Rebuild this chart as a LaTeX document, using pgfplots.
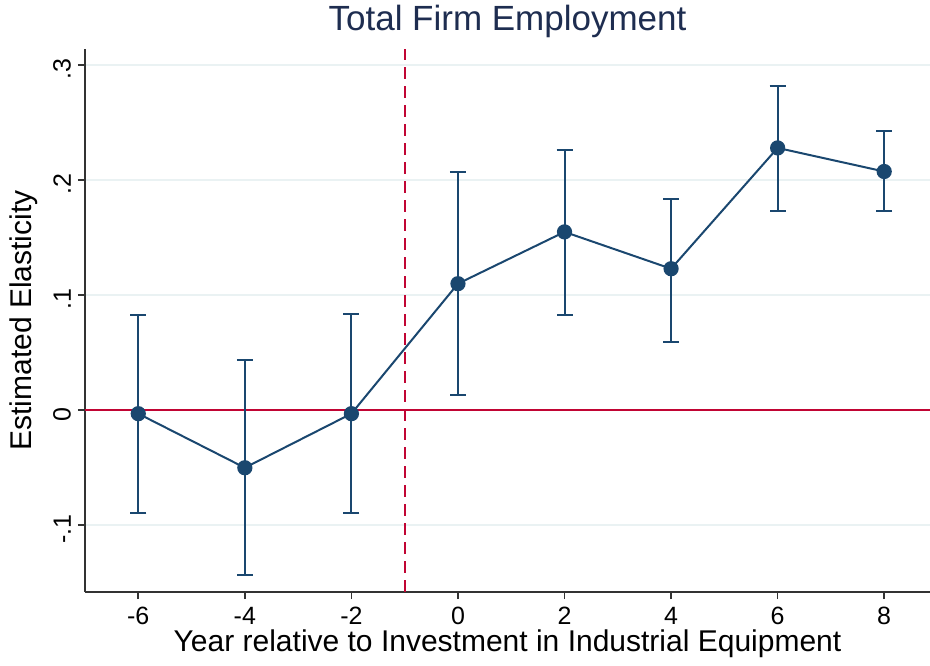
\documentclass[border=0pt]{standalone}
\usepackage{pgfplots}
\pgfplotsset{compat=1.18}
\usepackage{pgfplotstable}
\usepackage{fontspec}
\setmainfont{Liberation Sans}
\definecolor{navy}{RGB}{26,71,111}
\definecolor{cran}{RGB}{193,5,52}
\definecolor{gridc}{RGB}{234,242,243}
\definecolor{titlec}{RGB}{30,45,80}
\pgfplotstableread{
x y lo hi
-6 -0.003 -0.0895 0.0825
-4 -0.050 -0.1435 0.0435
-2 -0.003 -0.0895 0.0835
0 0.110 0.013 0.207
2 0.155 0.083 0.226
4 0.123 0.059 0.184
6 0.228 0.173 0.282
8 0.2075 0.173 0.243
}\est
\begin{document}
\begin{tikzpicture}
\path[use as bounding box] (-42.5bp,-37bp) rectangle (422.5bp,296bp);
\begin{axis}[
  at={(0,0)}, anchor=south west,
  scale only axis, width=422.5bp, height=271.5bp,
  xmin=-7, xmax=8.86, ymin=-0.158, ymax=0.314,
  axis x line*=bottom, axis y line*=left,
  axis line style={black!80, line width=0.9bp},
  /pgf/number format/assume math mode=true,
  xtick={-6,-4,...,8},
  xticklabels={-6,-4,-2,0,2,4,6,8},
  ytick={-0.1,0,0.1,0.2,0.3},
  yticklabels={-.1,0,.1,.2,.3},
  yticklabel style={rotate=90, anchor=south, font=\fontsize{12.5bp}{14bp}\selectfont, xshift=-2bp},
  xticklabel style={font=\fontsize{12.5bp}{14bp}\selectfont, yshift=-0.5bp},
  tick style={black!80, line width=0.8bp},
  tick align=outside, major tick length=3.5bp,
  ymajorgrids, grid style={gridc, line width=1bp},
  xlabel={Year relative to Investment in Industrial Equipment},
  ylabel={Estimated Elasticity},
  xlabel style={font=\fontsize{15bp}{17bp}\selectfont, yshift=4.5bp},
  ylabel style={font=\fontsize{15bp}{17bp}\selectfont, yshift=1bp},
  title={Total Firm Employment},
  title style={font=\fontsize{17.5bp}{20bp}\selectfont, text=titlec, yshift=-4bp},
  clip=false,
]
\addplot[cran, line width=1bp, forget plot] coordinates {(-7,0) (8.86,0)};
\addplot[cran, line width=1bp, dash pattern=on 6bp off 3.5bp, forget plot] coordinates {(-1,-0.158) (-1,0.314)};
\addplot[navy, line width=1bp, mark=*, mark size=3.3bp, mark options={fill=navy, draw=navy},
  error bars/.cd, y dir=both, y explicit,
  error bar style={navy, line width=1bp},
  error mark options={rotate=90, mark size=4bp, line width=1bp, navy}]
  table[x=x, y=y, y error plus expr=\thisrow{hi}-\thisrow{y}, y error minus expr=\thisrow{y}-\thisrow{lo}] {\est};
\end{axis}
\end{tikzpicture}
\end{document}
